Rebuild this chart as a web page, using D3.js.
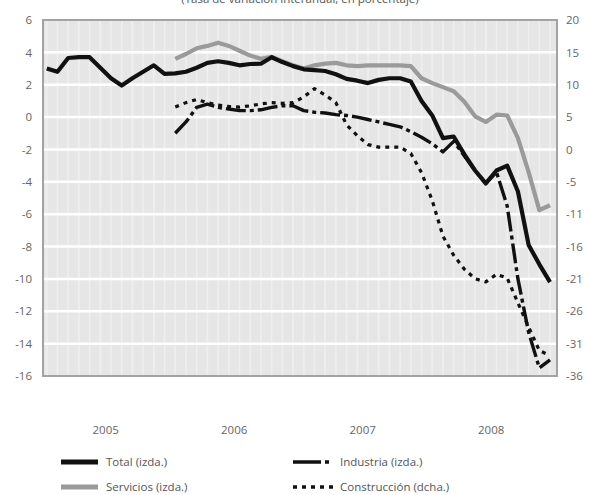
<!DOCTYPE html>
<html><head><meta charset="utf-8">
<script src="https://cdn.jsdelivr.net/npm/d3@7"></script>
<style>
html,body{margin:0;padding:0;background:#fff;}
svg{display:block;font-family:"Open Sans","Noto Sans",sans-serif;}
</style></head>
<body><svg id="c" width="591" height="495"></svg>
<script>
// ---- data ----
const years = ["2005","2006","2007","2008"];
const months = d3.range(48); // Jan 2005 .. Dec 2008 (month index)
const leftTicks = [6,4,2,0,-2,-4,-6,-8,-10,-12,-14,-16];
const rightTickLabels = ["20","15","10","5","0","-5","-11","-16","-21","-26","-31","-36"];
const N = null;
const total = [3.0,2.8,3.65,3.7,3.7,3.05,2.4,1.95,2.4,2.8,3.2,2.67,2.7,2.8,3.05,3.35,3.45,3.35,3.2,3.28,3.3,3.7,3.4,3.15,2.95,2.9,2.85,2.65,2.36,2.25,2.1,2.3,2.4,2.4,2.2,1.0,0.1,-1.3,-1.2,-2.3,-3.3,-4.1,-3.3,-3.0,-4.6,-7.9,-9.1,-10.2];
const servicios = [N,N,N,N,N,N,N,N,N,N,N,N,3.6,3.9,4.25,4.4,4.6,4.4,4.1,3.8,3.6,3.72,3.45,3.2,3.0,3.2,3.3,3.35,3.2,3.15,3.2,3.2,3.2,3.2,3.15,2.4,2.1,1.85,1.6,0.95,0.05,-0.3,0.15,0.1,-1.3,-3.4,-5.75,-5.45];
const industria = [N,N,N,N,N,N,N,N,N,N,N,N,-1.0,-0.3,0.6,0.8,0.6,0.5,0.4,0.4,0.45,0.6,0.7,0.7,0.4,0.3,0.25,0.15,0.1,0.0,-0.15,-0.3,-0.45,-0.6,-0.9,-1.25,-1.65,-2.15,-1.5,-2.4,-3.3,-4.1,-3.4,-5.5,-10.0,-13.3,-15.5,-15.0];
const construccion = [N,N,N,N,N,N,N,N,N,N,N,N,6.3,7.0,7.5,7.0,6.6,6.4,6.3,6.5,6.8,7.0,6.9,7.0,7.9,9.2,8.2,7.0,3.5,1.8,0.4,0.0,0.0,0.0,-1.0,-4.0,-8.4,-14.0,-17.0,-19.2,-20.7,-21.2,-20.0,-20.6,-24.5,-28.3,-32.0,-32.8];
const legendItems = [
  {name:"Total (izda.)", key:"total"},
  {name:"Industria (izda.)", key:"industria"},
  {name:"Servicios (izda.)", key:"servicios"},
  {name:"Construcción (dcha.)", key:"construccion"}
];

// ---- styles ----
const styles = {
  total:{stroke:"#111", width:4.2, dash:null},
  servicios:{stroke:"#9a9a9a", width:4.2, dash:null},
  industria:{stroke:"#111", width:3.4, dash:"20,4,4,4"},
  construccion:{stroke:"#111", width:3.2, dash:"4,5"}
};
const FONT = '"Open Sans","Noto Sans",sans-serif';

const svg = d3.select("#c");
const L = 43, R = 557, T = 20, B = 376;
const x = d3.scaleLinear().domain([-0.35, 47.65]).range([L, R]);
const yL = d3.scaleLinear().domain([-16, 6]).range([B, T]);
const yR = d3.scaleLinear().domain([-36, 20]).range([B, T]);

// partially visible title (cut off at the top, as in the source image)
svg.append("text").attr("x", 300).attr("y", 2.5).attr("text-anchor","middle")
  .attr("font-size", 11.5).attr("fill","#555")
  .text("(Tasa de variación interanual, en porcentaje)");

// plot background
svg.append("rect").attr("x", L).attr("y", T).attr("width", R-L).attr("height", B-T)
  .attr("fill", "#e6e6e6");
// vertical faint monthly stripes
svg.append("g").selectAll("line").data(months).join("line")
  .attr("x1", d => x(d)).attr("x2", d => x(d))
  .attr("y1", T).attr("y2", B)
  .attr("stroke", "#efefef").attr("stroke-width", 1.6);
// horizontal gridlines
svg.append("g").selectAll("line").data(leftTicks.slice(1, -1)).join("line")
  .attr("x1", L).attr("x2", R).attr("y1", d => yL(d)).attr("y2", d => yL(d))
  .attr("stroke", "#fff").attr("stroke-width", 2.5);
// border
svg.append("rect").attr("x", L).attr("y", T).attr("width", R-L).attr("height", B-T)
  .attr("fill", "none").attr("stroke", "#a3a3a3").attr("stroke-width", 2);

// axes
const axL = d3.axisLeft(yL).tickValues(leftTicks).tickSize(0).tickPadding(11).tickFormat(d => String(d));
const gL = svg.append("g").attr("transform", `translate(${L},0)`).call(axL);
const axR = d3.axisRight(yL).tickValues(leftTicks).tickSize(0).tickPadding(9)
  .tickFormat((d, i) => rightTickLabels[i]);
const gR = svg.append("g").attr("transform", `translate(${R},0)`).call(axR);
[gL, gR].forEach(g => {
  g.select(".domain").remove();
  g.selectAll("text").attr("font-size", 11.5).attr("fill", "#666").attr("font-family", FONT);
});

// year labels
const xYear = d3.scaleBand().domain(years).range([x(-0.5), x(47.5)]);
const axX = d3.axisBottom(xYear).tickSize(0).tickPadding(0);
const gX = svg.append("g").attr("transform", `translate(0,426)`).call(axX);
gX.select(".domain").remove();
gX.selectAll("text").attr("font-size", 11.5).attr("fill", "#666").attr("font-family", FONT);

// lines
const lineL = d3.line().defined(d => d.v !== null).x(d => x(d.i)).y(d => yL(d.v));
const lineR = d3.line().defined(d => d.v !== null).x(d => x(d.i)).y(d => yR(d.v));
const toPts = arr => arr.map((v, i) => ({i: months[i], v}));
const series = [
  {key:"construccion", data: construccion, gen: lineR},
  {key:"industria", data: industria, gen: lineL},
  {key:"servicios", data: servicios, gen: lineL},
  {key:"total", data: total, gen: lineL}
];
series.forEach(s => {
  const st = styles[s.key];
  svg.append("path").datum(toPts(s.data))
    .attr("d", s.gen).attr("fill", "none")
    .attr("stroke", st.stroke).attr("stroke-width", st.width)
    .attr("stroke-dasharray", st.dash)
    .attr("stroke-linejoin", "round");
});

// legend
const legPos = [[61, 462], [293, 462], [61, 487], [293, 487]];
legendItems.forEach((it, k) => {
  const st = styles[it.key];
  const [lx, ly] = legPos[k];
  const right = it.key === "industria" || it.key === "construccion";
  const g = svg.append("g").attr("transform", `translate(${lx},${ly})`);
  g.append("line").attr("x1", 0).attr("x2", right ? 40 : 37)
    .attr("y1", 0).attr("y2", 0)
    .attr("stroke", st.stroke).attr("stroke-width", right ? 3.6 : 5)
    .attr("stroke-dasharray", it.key === "industria" ? "28,4,4,4" : st.dash);
  g.append("text").attr("x", right ? 47 : 45)
    .attr("y", 4).attr("font-size", 11.5).attr("fill", "#555").attr("font-family", FONT).text(it.name);
});
</script></body></html>
